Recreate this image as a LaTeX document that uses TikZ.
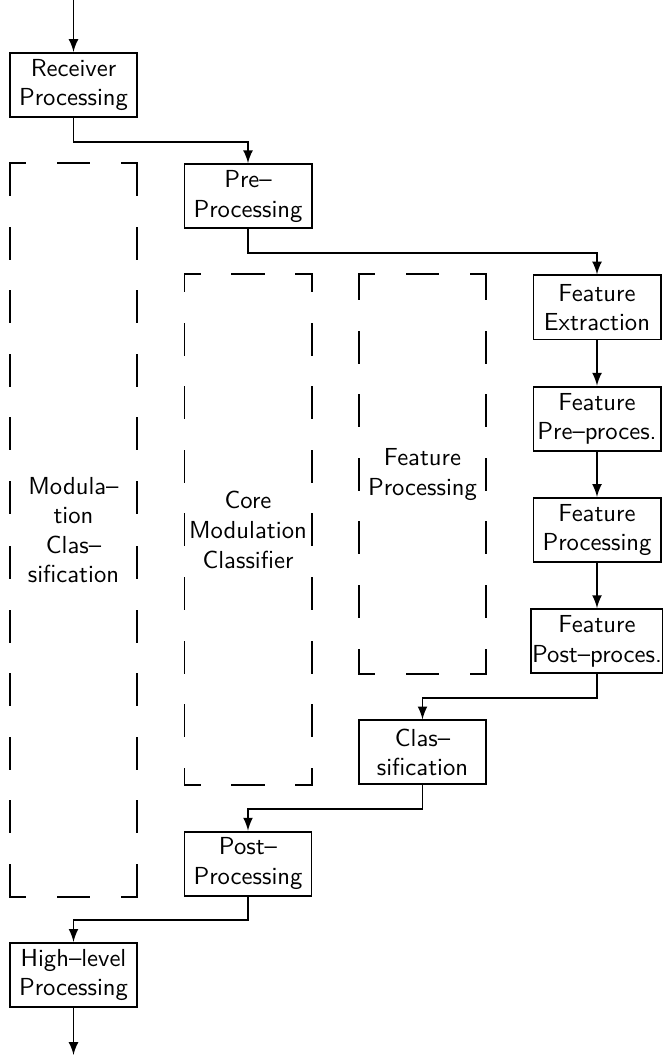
\documentclass[tikz,border=0pt]{standalone}
\usepackage{tikz}
\usetikzlibrary{positioning,fit}

\begin{document}
\begin{tikzpicture}[
node distance=1.586cm and 2.488cm, on grid, thick, >=latex,
squarednode/.style={rectangle, draw, minimum width=1.811cm, minimum height=0.913cm, inner sep=0.5pt, align=center},
groupnode/.style={rectangle, inner sep=0pt, outer sep=0pt, minimum width=1.811cm},
dashdash/.style={line cap=rect, dash pattern=on 12.6pt off 13.2pt, dash phase=6.3pt},
dashgap/.style={line cap=rect, dash pattern=on 12.6pt off 13.2pt, dash phase=18.9pt}]
\tikzstyle{every node}=[font=\sffamily]
\useasboundingbox (-1.048,1.212) rectangle (8.391,-13.83);
\node[squarednode] (1) {Receiver\\Processing};
\node[squarednode] (2) [below right=of 1] {Pre–\\Processing};
\node[squarednode] (3) [below right=1.586cm and 4.976cm of 2] {Feature\\Extraction};
\node[squarednode] (4) [below=of 3] {Feature\\Pre–proces.};
\node[squarednode] (5) [below=of 4] {Feature\\Processing};
\node[squarednode] (6) [below=of 5] {Feature\\Post–proces.};
\node[squarednode] (7) [below left=of 6] {Clas–\\sification};
\node[squarednode] (8) [below left=of 7] {Post–\\Processing};
\node[squarednode] (9) [below left=of 8] {High–level\\Processing};
\coordinate[above=1.212cm of 1] (0);
\coordinate[below=1.142cm of 9] (10);

% dashed groups
\node[groupnode, fit=(2.north -| 1) (8.south -| 1)] (11) {};
\node[groupnode, fit=(3.north -| 2) (7.south -| 2)] (12) {};
\node[groupnode, fit=(3.north -| 7) (6.south -| 7)] (13) {};
\node[align=center] (14) at (11) {Modula–\\tion\\Clas–\\sification};
\node[align=center] (15) at (12) {Core\\Modulation\\Classifier};
\node[align=center] (16) at (13) {Feature\\Processing};
\draw[dashdash] (11.north) -- (11.north west) (11.north) -- (11.north east)
                (11.south) -- (11.south west) (11.south) -- (11.south east);
\draw[dashgap] (11.west) -- (11.north west) (11.west) -- (11.south west)
               (11.east) -- (11.north east) (11.east) -- (11.south east);
\draw[dashdash] (12.north) -- (12.north west) (12.north) -- (12.north east)
                (12.south) -- (12.south west) (12.south) -- (12.south east)
                (12.west) -- (12.north west) (12.west) -- (12.south west)
                (12.east) -- (12.north east) (12.east) -- (12.south east);
\draw[dashdash] (13.north) -- (13.north west) (13.north) -- (13.north east)
                (13.south) -- (13.south west) (13.south) -- (13.south east)
                (13.west) -- (13.north west) (13.west) -- (13.south west)
                (13.east) -- (13.north east) (13.east) -- (13.south east);

\draw[->] (0) -- (1);
\draw[->] (1.south) -- ++(0,-0.337) -| (2.north);
\draw[->] (2.south) -- ++(0,-0.337) -| (3.north);
\draw[->] (3) -- (4);
\draw[->] (4) -- (5);
\draw[->] (5) -- (6);
\draw[->] (6.south) -- ++(0,-0.337) -| (7.north);
\draw[->] (7.south) -- ++(0,-0.337) -| (8.north);
\draw[->] (8.south) -- ++(0,-0.337) -| (9.north);
\draw[->] (9) -- (10);
\end{tikzpicture}
\end{document}
